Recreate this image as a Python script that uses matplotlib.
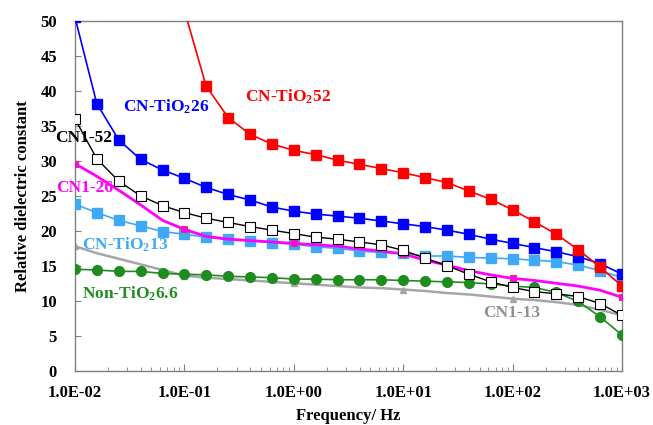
import numpy as np
import matplotlib
matplotlib.use("Agg")
import matplotlib.pyplot as plt
from matplotlib.ticker import LogLocator, NullFormatter, FixedLocator

plt.rcParams['font.family'] = ['Liberation Serif', 'DejaVu Serif']
plt.rcParams['font.weight'] = 'bold'
plt.rcParams['mathtext.default'] = 'regular'

# frequency points (Hz), 5 per decade
freq = [1.0e-2, 1.58e-2, 2.51e-2, 3.98e-2, 6.31e-2,
        1.0e-1, 1.58e-1, 2.51e-1, 3.98e-1, 6.31e-1,
        1.0, 1.58, 2.51, 3.98, 6.31,
        10.0, 15.8, 25.1, 39.8, 63.1,
        100.0, 158.0, 251.0, 398.0, 631.0, 1000.0]

nan = np.nan
cn_tio2_52 = [nan, nan, nan, nan, nan,
              51.5, 40.7, 36.2, 33.8, 32.4, 31.5, 30.9, 30.1, 29.5, 28.9,
              28.3, 27.6, 26.9, 25.7, 24.5, 23.0, 21.3, 19.5, 17.3, 14.8, 12.1]
cn_tio2_26 = [50.5, 38.2, 33.0, 30.2, 28.7, 27.5, 26.2, 25.2, 24.4, 23.4,
              22.8, 22.4, 22.1, 21.8, 21.4, 21.0, 20.6, 20.1, 19.5, 18.8,
              18.2, 17.6, 17.0, 16.3, 15.3, 13.8]
cn1_52 = [36.0, 30.3, 27.1, 25.0, 23.6, 22.6, 21.8, 21.2, 20.6, 20.1,
          19.6, 19.1, 18.8, 18.4, 18.0, 17.2, 16.1, 15.0, 13.8, 12.7,
          11.9, 11.3, 11.0, 10.6, 9.6, 7.9]
cn1_26 = [29.6, 27.8, 25.8, 23.7, 21.5, 20.2, 19.2, 18.8, 18.6, 18.4,
          18.2, 18.0, 17.8, 17.4, 17.1, 16.7, 15.8, 15.1, 14.3, 13.7,
          13.2, 12.9, 12.5, 12.1, 11.5, 10.5]
cn_tio2_13 = [23.8, 22.6, 21.5, 20.7, 19.9, 19.5, 19.1, 18.8, 18.6, 18.3,
              18.1, 17.7, 17.5, 17.1, 16.9, 16.8, 16.4, 16.4, 16.2, 16.1,
              16.0, 15.8, 15.6, 15.1, 14.3, 13.3]
cn1_13 = [17.8, 16.8, 16.0, 15.2, 14.4, 13.6, 13.3, 13.1, 12.9, 12.7,
          12.5, 12.3, 12.1, 11.9, 11.8, 11.6, 11.4, 11.1, 10.9, 10.6,
          10.3, 10.1, 9.8, 9.4, 8.7, 7.9]
non_tio2_66 = [14.5, 14.4, 14.2, 14.2, 13.9, 13.8, 13.7, 13.5, 13.4, 13.3,
               13.1, 13.1, 13.0, 13.0, 13.0, 12.9, 12.8, 12.7, 12.6, 12.4,
               12.1, 11.9, 11.2, 9.9, 7.7, 5.1]

xtick_vals = [1e-2, 1e-1, 1e0, 1e1, 1e2, 1e3]
xtick_labels = ['1.0E-02', '1.0E-01', '1.0E+00', '1.0E+01', '1.0E+02', '1.0E+03']

fig = plt.figure(figsize=(6.53, 4.25), dpi=100)
ax = fig.add_axes([0.1149, 0.1278, 0.8376, 0.8228])

ax.plot(freq, cn1_13, color='#a6a6a6', lw=1.8, marker='^', ms=5,
        markevery=5, zorder=2)
ax.plot(freq, non_tio2_66, color='#1e8c1e', lw=1.2, marker='o', ms=7, zorder=3)
ax.plot(freq, cn_tio2_13, color='#3fa9f5', lw=1.2, marker='s', ms=7, zorder=3)
ax.plot(freq, cn1_26, color='#ff00ff', lw=2.0, marker='s', ms=5,
        mec='#e03070', mew=0.8, markevery=5, zorder=4)
ax.plot(freq, cn1_52, color='black', lw=1.0, marker='s', ms=7,
        mfc='white', mec='black', mew=0.8, zorder=5)
ax.plot(freq, cn_tio2_26, color='#0000ff', lw=1.2, marker='s', ms=7, zorder=6)
ax.plot(freq, cn_tio2_52, color='#ff0000', lw=1.2, marker='s', ms=7, zorder=6)

ax.set_xscale('log')
ax.set_xlim(1e-2, 1e3)
ax.set_ylim(0, 50)
ax.xaxis.set_major_locator(FixedLocator(xtick_vals))
ax.set_xticklabels(xtick_labels)
ax.xaxis.set_minor_locator(LogLocator(base=10, subs=np.arange(2, 10)))
ax.xaxis.set_minor_formatter(NullFormatter())
ax.set_yticks(np.arange(0, 51, 5))

for s in ax.spines.values():
    s.set_color('#808080')
    s.set_linewidth(1.0)
ax.tick_params(axis='both', which='both', direction='in', color='#808080',
               labelsize=12)
ax.tick_params(axis='x', which='major', length=5, pad=10)
ax.tick_params(axis='x', which='minor', length=3)
ax.tick_params(axis='y', which='major', length=4, pad=13)
for lab in ax.get_xticklabels() + ax.get_yticklabels():
    lab.set_fontweight('bold')

ax.set_xlabel('Frequency/ Hz', fontsize=12, fontweight='bold', labelpad=5)
ax.set_ylabel('Relative dielectric constant', fontsize=12, fontweight='bold',
              labelpad=7)

# series labels
kw = dict(fontsize=12.5, fontweight='bold', transform=fig.transFigure,
          va='center', ha='left')
fig.text(123 / 653, 1 - 107 / 425, 'CN-TiO$_2$26', color='#0000ff', **kw)
fig.text(245 / 653, 1 - 97 / 425, 'CN-TiO$_2$52', color='#ff0000', **kw)
fig.text(55 / 653, 1 - 138 / 425, 'CN1-52', color='black', **kw)
fig.text(56 / 653, 1 - 188 / 425, 'CN1-26', color='#ff00ff', **kw)
fig.text(82 / 653, 1 - 245 / 425, 'CN-TiO$_2$13', color='#3fa9f5', **kw)
fig.text(82 / 653, 1 - 294 / 425, 'Non-TiO$_2$6.6', color='#1e8c1e', **kw)
fig.text(483 / 653, 1 - 313 / 425, 'CN1-13', color='#909090', **kw)

fig.savefig('out.png', dpi=100)
